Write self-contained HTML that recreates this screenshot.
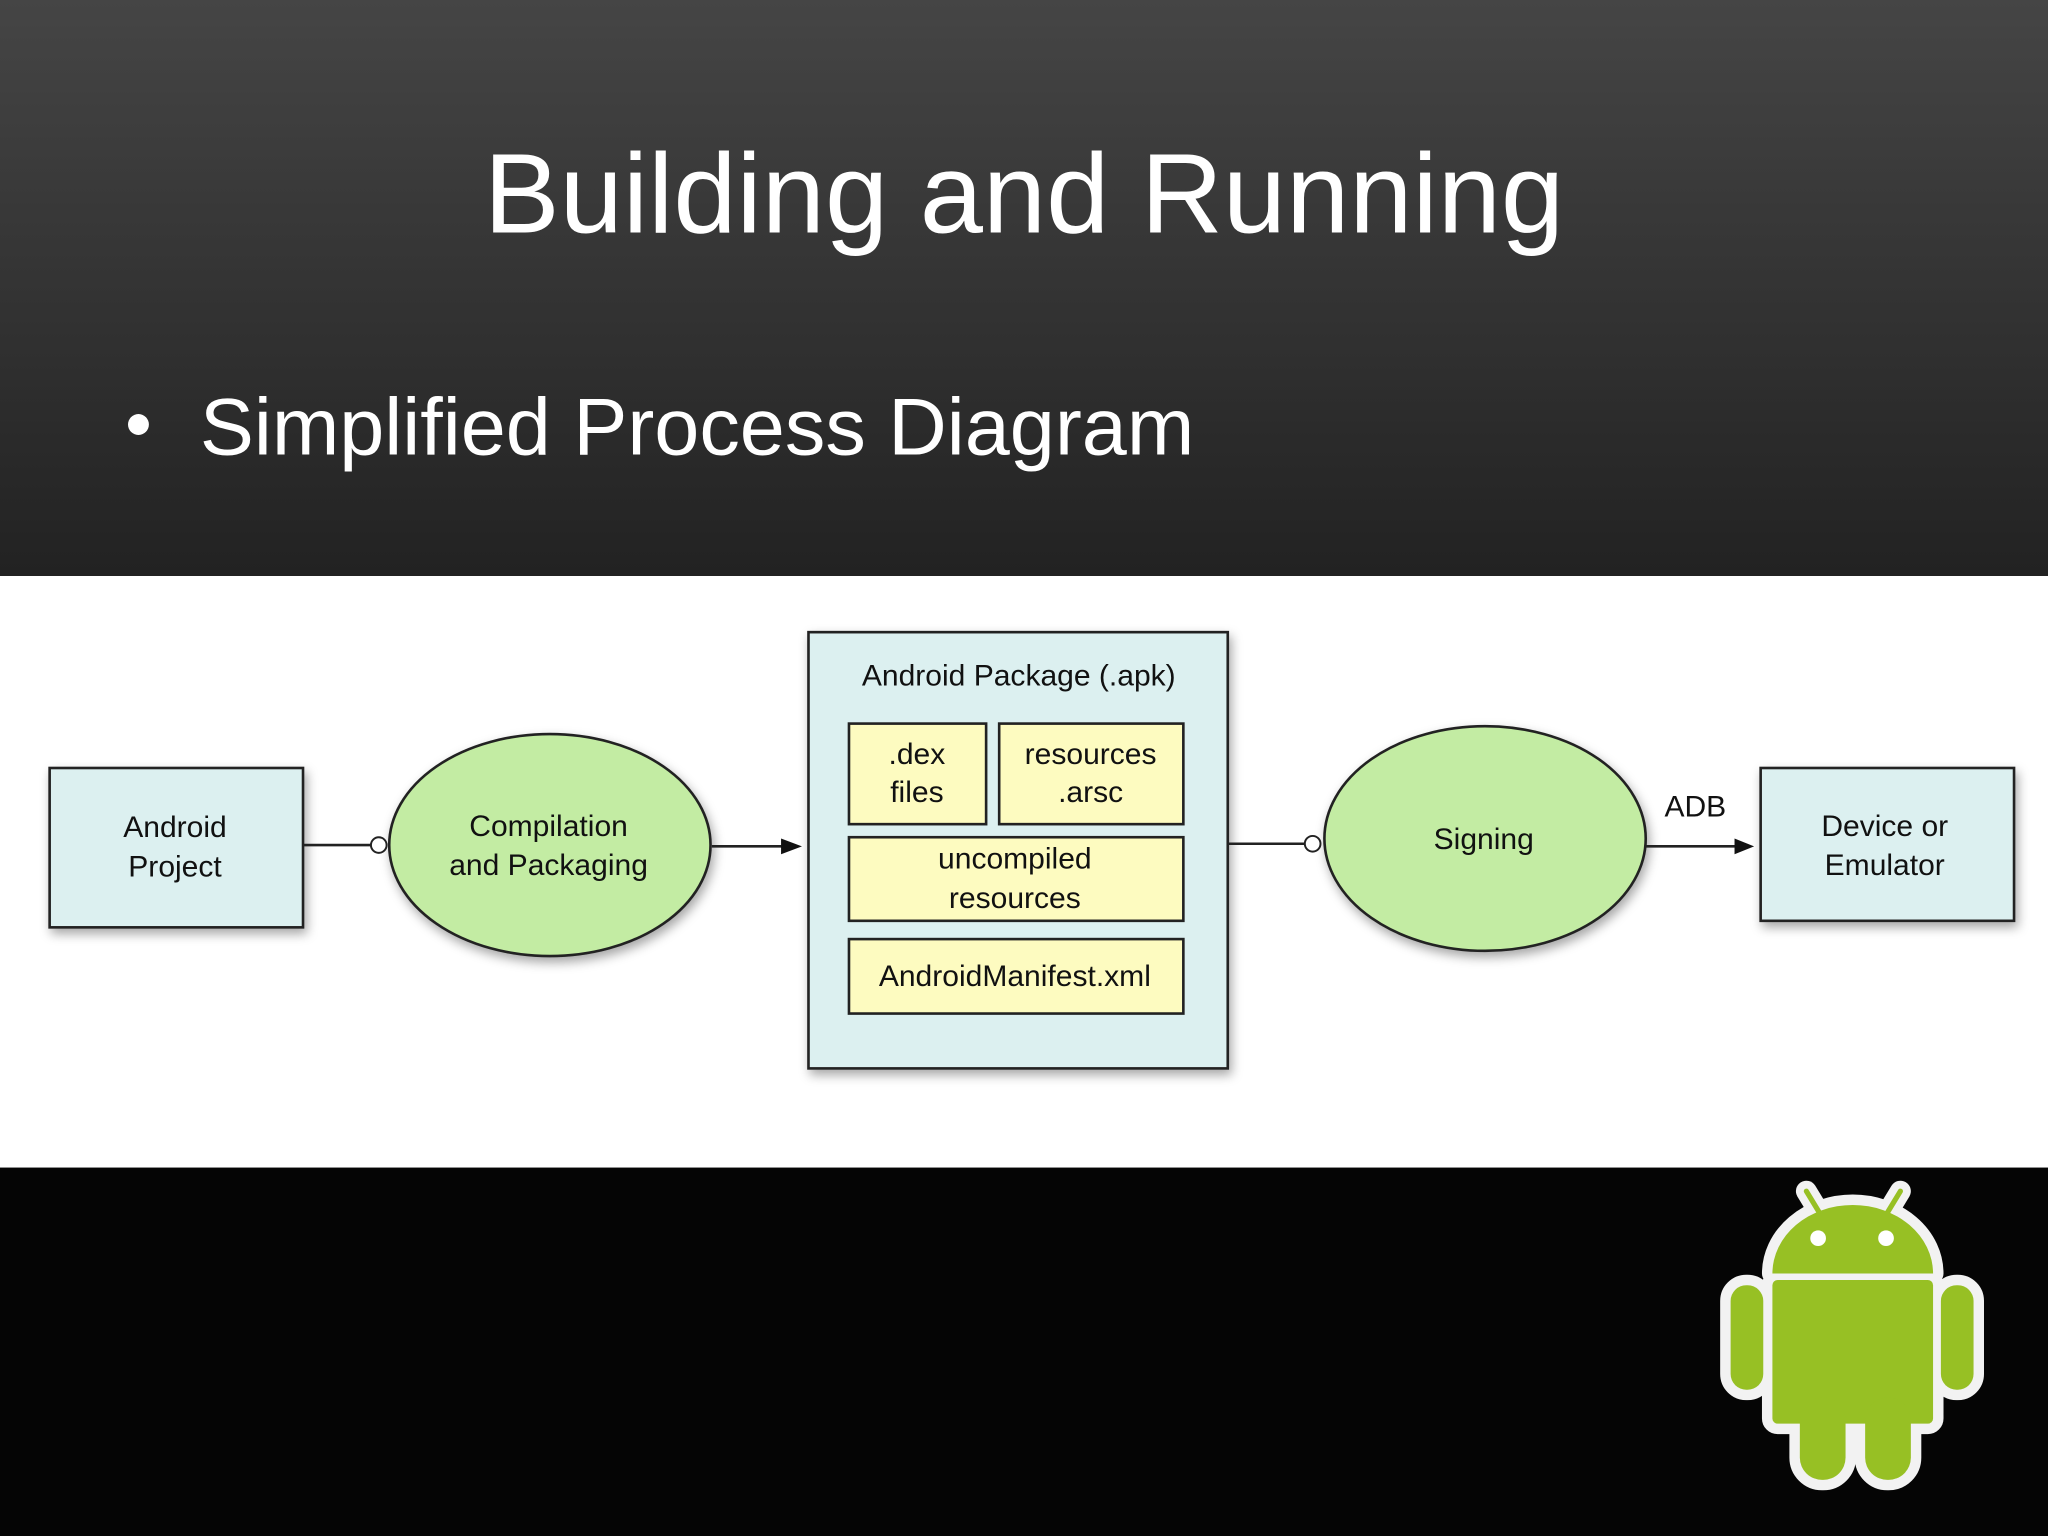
<!DOCTYPE html>
<html><head><meta charset="utf-8"><style>
html,body{margin:0;padding:0;background:#000;}
svg{display:block;}
text{font-family:"Liberation Sans",sans-serif;}
</style></head><body>
<svg width="2048" height="1536" viewBox="0 0 1568 1176" xmlns="http://www.w3.org/2000/svg">
<defs>
<linearGradient id="top" x1="0" y1="0" x2="0" y2="1">
<stop offset="0" stop-color="#454545"/><stop offset="1" stop-color="#222"/>
</linearGradient>
<filter id="sh" x="-20%" y="-20%" width="140%" height="150%"><feDropShadow dx="2" dy="4" stdDeviation="4" flood-color="#000" flood-opacity="0.35"/></filter>
</defs>
<rect x="0" y="0" width="1568" height="441" fill="url(#top)"/>
<rect x="0" y="441" width="1568" height="453" fill="#fff"/>
<rect x="0" y="894" width="1568" height="282" fill="#050505"/>
<text x="784" y="178" text-anchor="middle" font-size="87" fill="#fff">Building and Running</text>
<circle cx="106" cy="325" r="8" fill="#fff"/>
<text x="153" y="348" font-size="62" fill="#fff">Simplified Process Diagram</text>

<g stroke="#222" stroke-width="2" font-size="23" fill="#111">
<rect x="38" y="588" width="194" height="122" fill="#dcf0f0" filter="url(#sh)"/>
<ellipse cx="421" cy="647" rx="123" ry="85" fill="#c3eca3" filter="url(#sh)"/>
<rect x="619" y="484" width="321" height="334" fill="#dcf0f0" filter="url(#sh)"/>
<rect x="650" y="554" width="105" height="77" fill="#fdfbc0"/>
<rect x="765" y="554" width="141" height="77" fill="#fdfbc0"/>
<rect x="650" y="641" width="256" height="64" fill="#fdfbc0"/>
<rect x="650" y="719" width="256" height="57" fill="#fdfbc0"/>
<ellipse cx="1137" cy="642" rx="123" ry="86" fill="#c3eca3" filter="url(#sh)"/>
<rect x="1348" y="588" width="194" height="117" fill="#dcf0f0" filter="url(#sh)"/>
<line x1="232" y1="647" x2="284" y2="647"/>
<circle cx="290" cy="647" r="6" fill="#fff" stroke-width="1.5"/>
<line x1="545" y1="648" x2="600" y2="648"/>
<line x1="940" y1="646" x2="999" y2="646"/>
<circle cx="1005" cy="646" r="6" fill="#fff" stroke-width="1.5"/>
<line x1="1260" y1="648" x2="1330" y2="648"/>
</g>
<polygon points="598,642 614,648 598,654" fill="#111"/>
<polygon points="1328,642 1343,648 1328,654" fill="#111"/>
<g font-size="23" fill="#111" text-anchor="middle">
<text x="134" y="641">Android</text><text x="134" y="671">Project</text>
<text x="420" y="640">Compilation</text><text x="420" y="670">and Packaging</text>
<text x="780" y="525">Android Package (.apk)</text>
<text x="702" y="585">.dex</text><text x="702" y="614">files</text>
<text x="835" y="585">resources</text><text x="835" y="614">.arsc</text>
<text x="777" y="665">uncompiled</text><text x="777" y="695">resources</text>
<text x="777" y="755">AndroidManifest.xml</text>
<text x="1136" y="650">Signing</text>
<text x="1298" y="625">ADB</text>
<text x="1443" y="640">Device or</text><text x="1443" y="670">Emulator</text>
</g>

<g stroke="#f2f2f2" stroke-width="16" stroke-linejoin="round" stroke-linecap="round" fill="#f2f2f2">
<line x1="1383" y1="912" x2="1400" y2="940"/>
<line x1="1455" y1="912" x2="1438" y2="940"/>
<path d="M1357 975 A61 52 0 0 1 1480 975 Z"/>
<rect x="1357" y="980" width="123" height="110" rx="4"/>
<rect x="1325" y="984" width="25" height="80" rx="12"/>
<rect x="1486" y="984" width="25" height="80" rx="12"/>
<rect x="1378" y="1070" width="35" height="63" rx="17"/>
<rect x="1428" y="1070" width="35" height="63" rx="17"/>
</g>
<g fill="#97c024" stroke="#97c024" stroke-linecap="round">
<line x1="1383" y1="912" x2="1400" y2="940" stroke-width="4"/>
<line x1="1455" y1="912" x2="1438" y2="940" stroke-width="4"/>
<path d="M1357 975 A61 52 0 0 1 1480 975 Z" stroke="none"/>
<rect x="1357" y="980" width="123" height="110" rx="4" stroke="none"/>
<rect x="1325" y="984" width="25" height="80" rx="12" stroke="none"/>
<rect x="1486" y="984" width="25" height="80" rx="12" stroke="none"/>
<rect x="1378" y="1070" width="35" height="63" rx="17" stroke="none"/>
<rect x="1428" y="1070" width="35" height="63" rx="17" stroke="none"/>
</g>
<circle cx="1392" cy="948" r="6" fill="#fff"/>
<circle cx="1444" cy="948" r="6" fill="#fff"/>
</svg>
</body></html>
